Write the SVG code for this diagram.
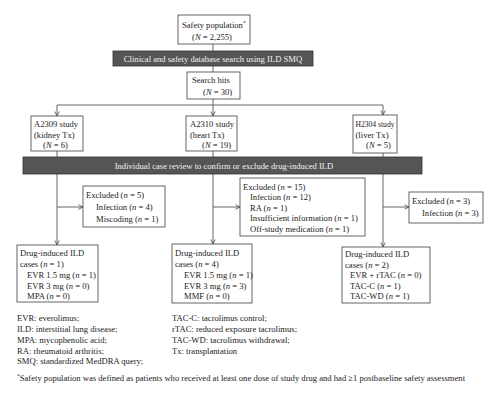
<svg xmlns="http://www.w3.org/2000/svg" width="500" height="400" viewBox="0 0 500 400">
<defs>
<marker id="ah" markerWidth="6" markerHeight="6" refX="5" refY="3" orient="auto" markerUnits="userSpaceOnUse">
<path d="M0.5,0.8 L5,3 L0.5,5.2" fill="none" stroke="#444" stroke-width="0.8"/>
</marker>
<style>
text{font-family:"Liberation Serif","Times New Roman",serif;font-size:8.6px;fill:#222}
.box{fill:#fff;stroke:#555;stroke-width:0.9}
.bar{fill:#555;stroke:#333;stroke-width:0.8}
.bt{fill:#f2f2f2;font-size:8.6px}
.ln{fill:none;stroke:#555;stroke-width:0.9}
.i{font-style:italic}
.sup{font-size:5.5px}
</style>
</defs>
<rect width="500" height="400" fill="#fff"/>
<g id="connectors">
<path class="ln" d="M213,44 V72"/>
<path class="ln" d="M213,99 V105"/>
<path class="ln" d="M57,105 H383"/>
<path class="ln" d="M57,105 V116" marker-end="url(#ah)"/>
<path class="ln" d="M213,105 V116" marker-end="url(#ah)"/>
<path class="ln" d="M383,105 V115" marker-end="url(#ah)"/>
<path class="ln" d="M57,151 V245" marker-end="url(#ah)"/>
<path class="ln" d="M57,207 H83" marker-end="url(#ah)"/>
<path class="ln" d="M213,151 V244" marker-end="url(#ah)"/>
<path class="ln" d="M213,207 H240" marker-end="url(#ah)"/>
<path class="ln" d="M383,153 V247" marker-end="url(#ah)"/>
<path class="ln" d="M383,207 H409" marker-end="url(#ah)"/>
</g>
<g id="safety">
<rect class="box" x="178" y="15" width="72" height="29"/>
<text x="182" y="28">Safety population<tspan class="sup" dy="-3">*</tspan></text>
<text x="192" y="39.5">(<tspan class="i">N</tspan> = 2,255)</text>
</g>
<g id="bar1">
<rect class="bar" x="113" y="51" width="200" height="15"/>
<text class="bt" x="213" y="61.5" text-anchor="middle">Clinical and safety database search using ILD SMQ</text>
</g>
<g id="searchhits">
<rect class="box" x="187" y="72" width="53" height="27"/>
<text x="192" y="83">Search hits</text>
<text x="203" y="94.5">(<tspan class="i">N</tspan> = 30)</text>
</g>
<g id="a2309">
<rect class="box" x="31" y="116" width="52" height="35"/>
<text x="34" y="127">A2309 study</text>
<text x="34" y="137.5">(kidney Tx)</text>
<text x="43" y="148">(<tspan class="i">N</tspan> = 6)</text>
</g>
<g id="a2310">
<rect class="box" x="186" y="116" width="51" height="35"/>
<text x="190" y="127">A2310 study</text>
<text x="190" y="137.5">(heart Tx)</text>
<text x="202" y="148">(<tspan class="i">N</tspan> = 19)</text>
</g>
<g id="h2304">
<rect class="box" x="353" y="115" width="44" height="38"/>
<text x="355.5" y="127" textLength="39" lengthAdjust="spacingAndGlyphs">H2304 study</text>
<text x="355.5" y="137.5">(liver Tx)</text>
<text x="366" y="148">(<tspan class="i">N</tspan> = 5)</text>
</g>
<g id="bar2">
<rect class="bar" x="23" y="157" width="399" height="17"/>
<text class="bt" x="224" y="168.5" text-anchor="middle">Individual case review to confirm or exclude drug-induced ILD</text>
</g>
<g id="excl1">
<rect class="box" x="83" y="186" width="82" height="41"/>
<text x="86" y="197.5">Excluded (<tspan class="i">n</tspan> = 5)</text>
<text x="96" y="209.5">Infection (<tspan class="i">n</tspan> = 4)</text>
<text x="96" y="221.5">Miscoding (<tspan class="i">n</tspan> = 1)</text>
</g>
<g id="excl2">
<rect class="box" x="240" y="178" width="125" height="58"/>
<text x="243" y="189.5">Excluded (<tspan class="i">n</tspan> = 15)</text>
<text x="250" y="200">Infection (<tspan class="i">n</tspan> = 12)</text>
<text x="250" y="210.5">RA (<tspan class="i">n</tspan> = 1)</text>
<text x="250" y="221">Insufficient information (<tspan class="i">n</tspan> = 1)</text>
<text x="250" y="231.5">Off-study medication (<tspan class="i">n</tspan> = 1)</text>
</g>
<g id="excl3">
<rect class="box" x="409" y="192" width="74" height="31"/>
<text x="412" y="203.5">Excluded (<tspan class="i">n</tspan> = 3)</text>
<text x="422" y="215.5">Infection (<tspan class="i">n</tspan> = 3)</text>
</g>
<g id="drug1">
<rect class="box" x="17" y="245" width="81" height="57"/>
<text x="20" y="255.5">Drug-induced ILD</text>
<text x="20" y="266.5">cases (<tspan class="i">n</tspan> = 1)</text>
<text x="27" y="277.5">EVR 1.5 mg (<tspan class="i">n</tspan> = 1)</text>
<text x="27" y="288.5">EVR 3 mg (<tspan class="i">n</tspan> = 0)</text>
<text x="27" y="299">MPA (<tspan class="i">n</tspan> = 0)</text>
</g>
<g id="drug2">
<rect class="box" x="172" y="244" width="80" height="59"/>
<text x="175" y="255.5">Drug-induced ILD</text>
<text x="175" y="266.5">cases (<tspan class="i">n</tspan> = 4)</text>
<text x="184" y="277.5">EVR 1.5 mg (<tspan class="i">n</tspan> = 1)</text>
<text x="184" y="288.5">EVR 3 mg (<tspan class="i">n</tspan> = 3)</text>
<text x="184" y="299">MMF (<tspan class="i">n</tspan> = 0)</text>
</g>
<g id="drug3">
<rect class="box" x="342" y="247" width="88" height="56"/>
<text x="345" y="257">Drug-induced ILD</text>
<text x="345" y="267.5">cases (<tspan class="i">n</tspan> = 2)</text>
<text x="350" y="278">EVR + rTAC (<tspan class="i">n</tspan> = 0)</text>
<text x="350" y="288.5">TAC-C (<tspan class="i">n</tspan> = 1)</text>
<text x="350" y="299">TAC-WD (<tspan class="i">n</tspan> = 1)</text>
</g>
<g id="legend">
<text x="17" y="321">EVR: everolimus;</text>
<text x="17" y="332">ILD: interstitial lung disease;</text>
<text x="17" y="343">MPA: mycophenolic acid;</text>
<text x="17" y="353.5">RA: rheumatoid arthritis;</text>
<text x="17" y="364">SMQ: standardized MedDRA query;</text>
<text x="172" y="321">TAC-C: tacrolimus control;</text>
<text x="172" y="332">rTAC: reduced exposure tacrolimus;</text>
<text x="172" y="343">TAC-WD: tacrolimus withdrawal;</text>
<text x="172" y="353.5">Tx: transplantation</text>
<text x="17" y="381"><tspan class="sup" dy="-3">*</tspan><tspan dy="3">Safety population was defined as patients who received at least one dose of study drug and had ≥1 postbaseline safety assessment</tspan></text>
</g>
</svg>
